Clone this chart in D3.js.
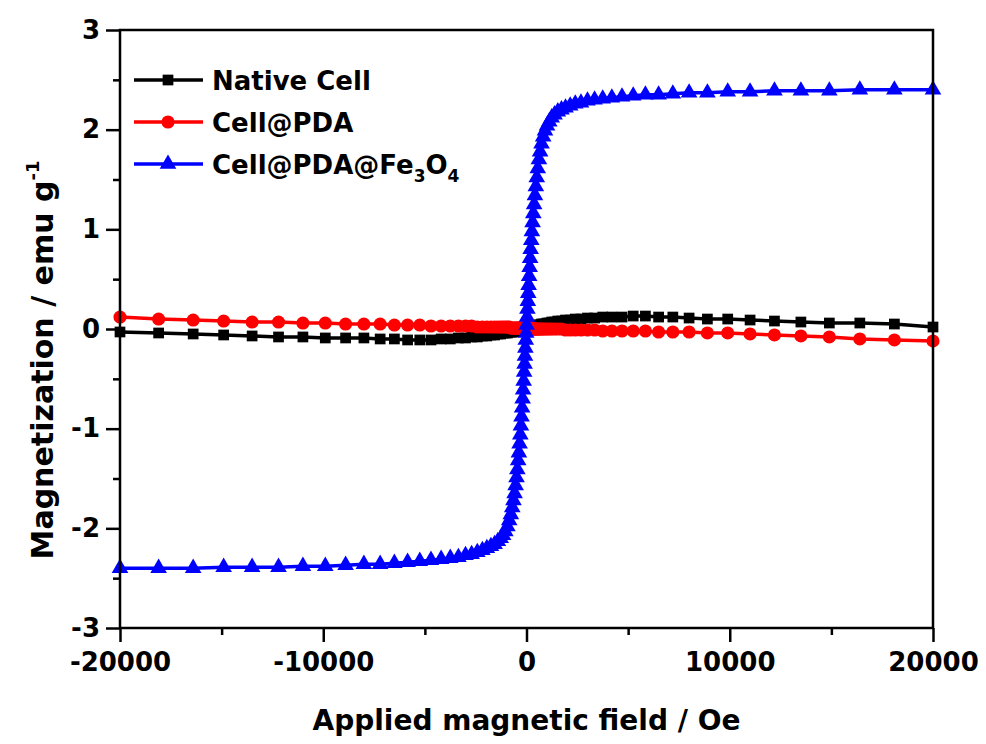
<!DOCTYPE html>
<html>
<head>
<meta charset="utf-8">
<script src="https://cdn.jsdelivr.net/npm/d3@7"></script>
<style>
  body { margin: 0; background: #fff; }
  text { font-family: "DejaVu Sans", Verdana, sans-serif; font-weight: bold; }
</style>
</head>
<body>
<div id="vis"></div>
<script>
// Frame constants
const FRAME_WIDTH = 986;
const FRAME_HEIGHT = 744;
const MARGINS = {left: 120, right: 53, top: 30, bottom: 116};

// Applied field (Oe), shared by all three measurements
const FIELD = [
  -20000, -18100, -16400, -14900, -13500, -12200, -11000, -9900, -8900, -8000,
  -7200, -6500, -5850, -5250, -4700, -4200, -3750, -3350, -3000, -2700,
  -2420, -2170, -1950, -1750, -1570, -1410, -1270, -1150, -1040, -940,
  -850, -770, -700, -640, -585, -535, -490, -450, -410, -375,
  -340, -305, -275, -245, -215, -190, -165, -140, -115, -95,
  -75, -55, -35, -15, 5, 25, 45, 65, 85, 105,
  130, 155, 180, 205, 235, 265, 300, 335, 375, 415,
  460, 505, 555, 610, 670, 740, 820, 910, 1010, 1120,
  1240, 1380, 1540, 1720, 1920, 2150, 2400, 2680, 3000, 3350,
  3750, 4200, 4700, 5250, 5850, 6500, 7200, 8000, 8900, 9900,
  11000, 12200, 13500, 14900, 16400, 18100, 20000
];

// Magnetization (emu/g)
const M_NATIVE = [
  -0.03, -0.04, -0.05, -0.06, -0.07, -0.08, -0.08, -0.09, -0.09, -0.09,
  -0.10, -0.10, -0.11, -0.11, -0.11, -0.10, -0.10, -0.09, -0.09, -0.08,
  -0.08, -0.07, -0.07, -0.06, -0.06, -0.05, -0.05, -0.04, -0.04, -0.04,
  -0.03, -0.03, -0.03, -0.03, -0.02, -0.02, -0.02, -0.02, -0.02, -0.01,
  -0.01, -0.01, -0.01, -0.01, -0.01, -0.01, 0.00, 0.00, 0.00, 0.00,
  0.00, 0.00, 0.00, 0.00, 0.00, 0.00, 0.01, 0.01, 0.01, 0.01,
  0.01, 0.01, 0.01, 0.01, 0.02, 0.02, 0.02, 0.02, 0.03, 0.03,
  0.03, 0.03, 0.04, 0.04, 0.04, 0.05, 0.05, 0.05, 0.06, 0.06,
  0.07, 0.07, 0.08, 0.08, 0.09, 0.09, 0.10, 0.10, 0.11, 0.11,
  0.12, 0.12, 0.12, 0.13, 0.13, 0.12, 0.12, 0.11, 0.10, 0.10,
  0.09, 0.08, 0.07, 0.06, 0.06, 0.05, 0.02
];

const M_PDA = [
  0.12, 0.10, 0.09, 0.08, 0.07, 0.07, 0.06, 0.06, 0.05, 0.05,
  0.05, 0.04, 0.04, 0.04, 0.03, 0.03, 0.03, 0.03, 0.03, 0.03,
  0.02, 0.02, 0.02, 0.02, 0.02, 0.02, 0.02, 0.02, 0.02, 0.02,
  0.02, 0.01, 0.01, 0.01, 0.01, 0.01, 0.01, 0.01, 0.01, 0.01,
  0.01, 0.01, 0.01, 0.01, 0.01, 0.01, 0.01, 0.01, 0.01, 0.01,
  0.01, 0.01, 0.01, 0.01, 0.01, 0.01, 0.01, 0.01, 0.01, 0.01,
  0.01, 0.01, 0.01, 0.01, 0.01, 0.01, 0.00, 0.00, 0.00, 0.00,
  0.00, 0.00, 0.00, 0.00, 0.00, 0.00, 0.00, 0.00, 0.00, 0.00,
  0.00, 0.00, 0.00, 0.00, -0.01, -0.01, -0.01, -0.01, -0.01, -0.01,
  -0.02, -0.02, -0.02, -0.02, -0.02, -0.03, -0.03, -0.03, -0.04, -0.04,
  -0.05, -0.06, -0.07, -0.08, -0.10, -0.11, -0.12
];

const M_FE3O4 = [
  -2.40, -2.40, -2.40, -2.39, -2.39, -2.39, -2.38, -2.38, -2.37, -2.36,
  -2.36, -2.35, -2.34, -2.33, -2.32, -2.31, -2.30, -2.29, -2.27, -2.26,
  -2.24, -2.22, -2.20, -2.18, -2.16, -2.13, -2.10, -2.07, -2.03, -1.98,
  -1.92, -1.86, -1.79, -1.72, -1.65, -1.57, -1.49, -1.41, -1.32, -1.24,
  -1.15, -1.06, -0.97, -0.88, -0.79, -0.70, -0.61, -0.52, -0.43, -0.35,
  -0.27, -0.19, -0.11, -0.04, 0.04, 0.12, 0.20, 0.28, 0.36, 0.44,
  0.53, 0.62, 0.71, 0.80, 0.89, 0.98, 1.07, 1.16, 1.25, 1.34,
  1.43, 1.52, 1.61, 1.70, 1.78, 1.86, 1.93, 1.99, 2.04, 2.08,
  2.12, 2.15, 2.18, 2.20, 2.22, 2.24, 2.26, 2.27, 2.29, 2.30,
  2.31, 2.32, 2.33, 2.34, 2.35, 2.35, 2.36, 2.37, 2.37, 2.38,
  2.38, 2.39, 2.39, 2.39, 2.40, 2.40, 2.40
];

// Axis ticks
const X_TICKS = [-20000, -10000, 0, 10000, 20000];
const X_MINOR = [-15000, -5000, 5000, 15000];
const Y_TICKS = [-3, -2, -1, 0, 1, 2, 3];
const Y_MINOR = [-2.5, -1.5, -0.5, 0.5, 1.5, 2.5];

const SERIES = [
  {name: "Native Cell", values: M_NATIVE, color: "#000000", symbol: d3.symbolSquare, size: 115},
  {name: "Cell@PDA", values: M_PDA, color: "#ff0000", symbol: d3.symbolCircle, size: 135},
  {name: "Cell@PDA@Fe3O4", values: M_FE3O4, color: "#0000ff", symbol: d3.symbolTriangle, size: 120}
];

const VIS_WIDTH = FRAME_WIDTH - MARGINS.left - MARGINS.right;
const VIS_HEIGHT = FRAME_HEIGHT - MARGINS.top - MARGINS.bottom;

const FRAME = d3.select("#vis")
  .append("svg")
    .attr("width", FRAME_WIDTH)
    .attr("height", FRAME_HEIGHT);

FRAME.append("rect")
  .attr("width", FRAME_WIDTH)
  .attr("height", FRAME_HEIGHT)
  .attr("fill", "#fff");

const X_SCALE = d3.scaleLinear()
  .domain([-20000, 20000])
  .range([MARGINS.left, MARGINS.left + VIS_WIDTH]);

const Y_SCALE = d3.scaleLinear()
  .domain([-3, 3])
  .range([MARGINS.top + VIS_HEIGHT, MARGINS.top]);

// Data lines and markers
const line = d3.line()
  .x((d) => X_SCALE(d[0]))
  .y((d) => Y_SCALE(d[1]));

SERIES.forEach((s) => {
  const pts = FIELD.map((h, i) => [h, s.values[i]]);
  FRAME.append("path")
    .datum(pts)
    .attr("d", line)
    .attr("fill", "none")
    .attr("stroke", s.color)
    .attr("stroke-width", 3.5);
  FRAME.append("g")
    .selectAll("path")
    .data(pts)
    .enter()
    .append("path")
      .attr("transform", (d) => "translate(" + X_SCALE(d[0]) + "," + Y_SCALE(d[1]) + ")")
      .attr("d", d3.symbol().type(s.symbol).size(s.size))
      .attr("fill", s.color);
});

// Frame box
FRAME.append("rect")
  .attr("x", MARGINS.left)
  .attr("y", MARGINS.top)
  .attr("width", VIS_WIDTH)
  .attr("height", VIS_HEIGHT)
  .attr("fill", "none")
  .attr("stroke", "#000")
  .attr("stroke-width", 2.5);

// Axes
function styleAxis(g) {
  g.select(".domain").remove();
  g.selectAll("line").attr("stroke", "#000").attr("stroke-width", 2.5);
  g.selectAll("text")
    .attr("fill", "#000")
    .attr("font-size", "26px")
    .attr("font-family", "'DejaVu Sans', Verdana, sans-serif")
    .attr("font-weight", "bold");
}

FRAME.append("g")
  .attr("transform", "translate(0," + (MARGINS.top + VIS_HEIGHT) + ")")
  .call(d3.axisBottom(X_SCALE).tickValues(X_TICKS).tickSize(14).tickPadding(11)
    .tickFormat((d) => String(d)))
  .call(styleAxis);

FRAME.append("g")
  .attr("transform", "translate(0," + (MARGINS.top + VIS_HEIGHT) + ")")
  .call(d3.axisBottom(X_SCALE).tickValues(X_MINOR).tickSize(7).tickFormat(""))
  .call(styleAxis);

FRAME.append("g")
  .attr("transform", "translate(" + MARGINS.left + ",0)")
  .call(d3.axisLeft(Y_SCALE).tickValues(Y_TICKS).tickSize(14).tickPadding(6)
    .tickFormat((d) => String(d)))
  .call(styleAxis);

FRAME.append("g")
  .attr("transform", "translate(" + MARGINS.left + ",0)")
  .call(d3.axisLeft(Y_SCALE).tickValues(Y_MINOR).tickSize(7).tickFormat(""))
  .call(styleAxis);

// Axis titles
FRAME.append("text")
  .attr("x", X_SCALE(0))
  .attr("y", 730)
  .attr("text-anchor", "middle")
  .attr("font-size", "28px")
  .text("Applied magnetic field / Oe");

const yTitle = FRAME.append("text")
  .attr("transform", "translate(53,360) rotate(-90)")
  .attr("text-anchor", "middle")
  .attr("font-size", "30px");
yTitle.append("tspan").text("Magnetization / emu g");
yTitle.append("tspan").attr("dy", -14).attr("font-size", "18px").text("-1");

// Legend
const LEGEND_Y = [80, 122, 164];
SERIES.forEach((s, i) => {
  const y = LEGEND_Y[i];
  FRAME.append("line")
    .attr("x1", 134).attr("x2", 203)
    .attr("y1", y).attr("y2", y)
    .attr("stroke", s.color)
    .attr("stroke-width", 3.5);
  FRAME.append("path")
    .attr("transform", "translate(168," + y + ")")
    .attr("d", d3.symbol().type(s.symbol).size(s.size))
    .attr("fill", s.color);
  const t = FRAME.append("text")
    .attr("x", 212)
    .attr("y", y + 10)
    .attr("font-size", "26px");
  if (i === 2) {
    t.append("tspan").text("Cell@PDA@Fe");
    t.append("tspan").attr("dy", 8).attr("font-size", "17px").text("3");
    t.append("tspan").attr("dy", -8).text("O");
    t.append("tspan").attr("dy", 8).attr("font-size", "17px").text("4");
  } else {
    t.text(s.name);
  }
});
</script>
</body>
</html>
